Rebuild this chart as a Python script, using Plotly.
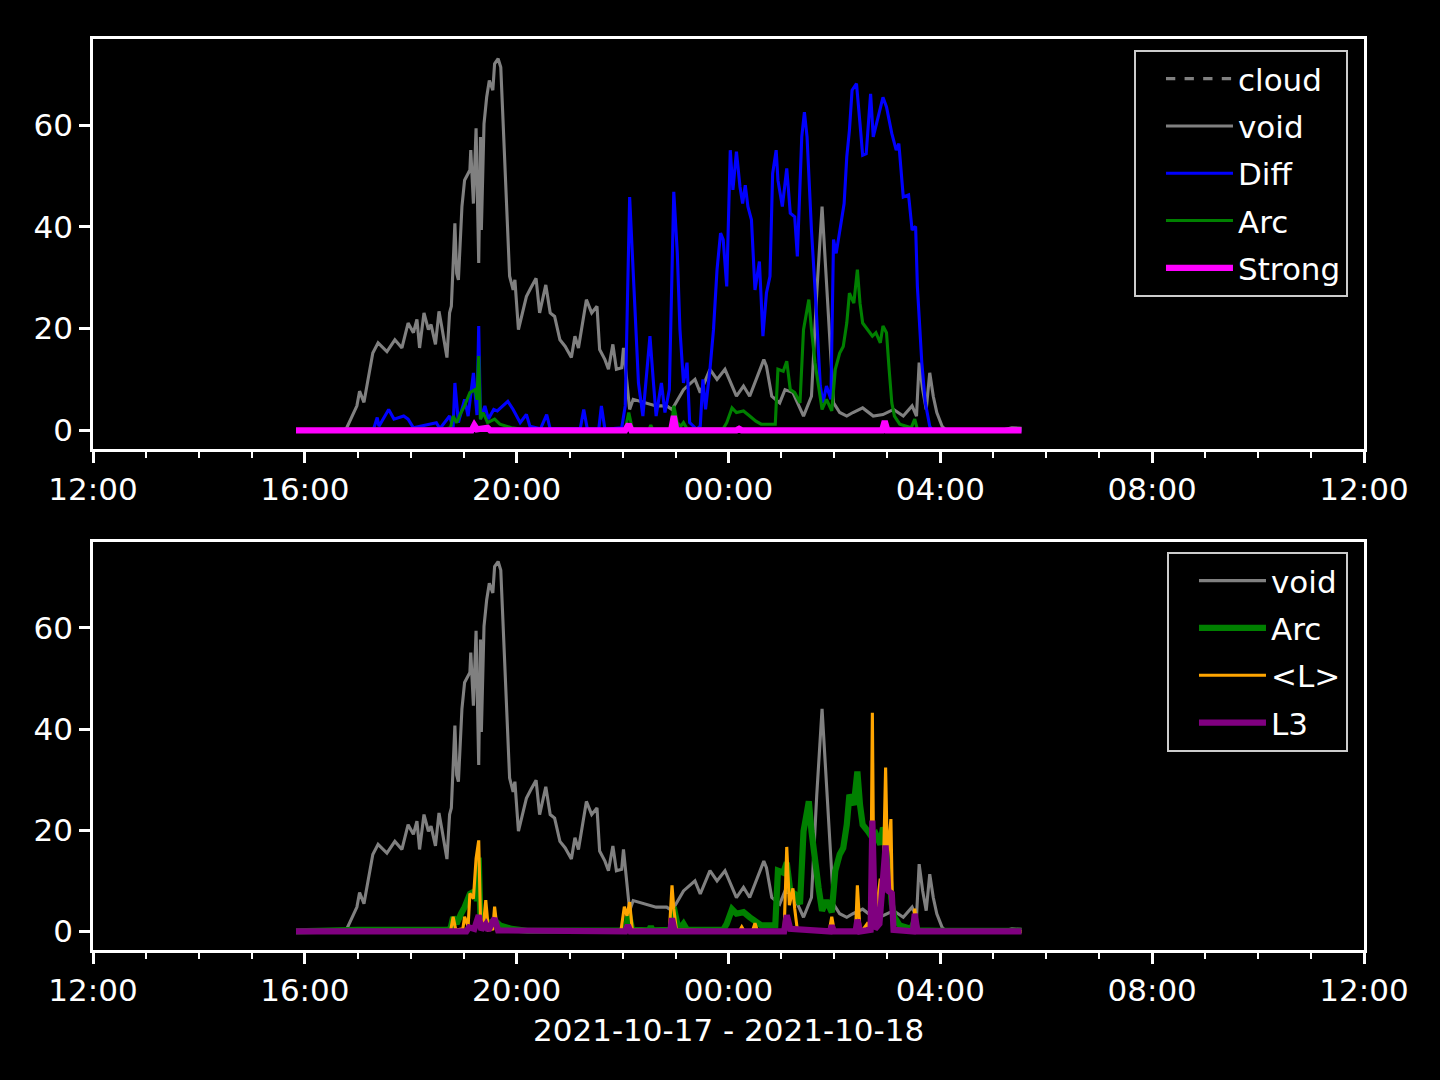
import plotly.graph_objects as go
import pandas as pd

# ---------------- data (clock times; times before 12:00 belong to 2021-10-18) ----------------
void_t = ["15:50", "16:42", "16:47", "16:59", "17:02", "17:07", "17:17", "17:23", "17:33", "17:42",
          "17:50", "17:57", "18:03", "18:07", "18:10", "18:15", "18:20", "18:23", "18:28", "18:32",
          "18:35", "18:41", "18:44", "18:46", "18:50", "18:52", "18:54", "18:58", "19:01", "19:07",
          "19:08", "19:11", "19:14", "19:17", "19:19", "19:20", "19:23", "19:26", "19:29", "19:33",
          "19:35", "19:39", "19:42", "19:47", "19:52", "19:56", "19:58", "20:02", "20:11", "20:16",
          "20:22", "20:26", "20:33", "20:38", "20:43", "20:49", "20:55", "21:02", "21:06", "21:10",
          "21:16", "21:19", "21:25", "21:31", "21:34", "21:40", "21:44", "21:49", "21:53", "21:59",
          "22:01", "22:05", "22:08", "22:12", "22:27", "22:38", "22:50", "22:56", "23:09", "23:22",
          "23:28", "23:39", "23:47", "23:56", "00:09", "00:17", "00:24", "00:40", "00:43", "00:49",
          "00:58", "01:04", "01:13", "01:25", "01:34", "01:40", "01:46", "01:51", "01:55", "01:59",
          "02:06", "02:14", "02:21", "02:32", "02:44", "02:55", "03:07", "03:18", "03:28", "03:33",
          "03:36", "03:40", "03:44", "03:48", "03:52", "03:56", "04:02", "04:06", "05:12", "05:21",
          "05:32"]
void_v = [0.0, 0.0, 0.3, 4.8, 7.7, 5.5, 15.2, 17.2, 15.5, 17.8,
          16.2, 21.1, 19.2, 21.8, 16.2, 23.1, 19.8, 20.8, 16.9, 23.4,
          20.5, 14.3, 23.1, 24.4, 40.7, 30.9, 29.6, 44.0, 49.2, 51.2,
          55.1, 44.6, 59.4, 32.9, 57.7, 39.4, 60.3, 65.5, 68.8, 66.9,
          72.1, 73.1, 71.4, 50.5, 30.3, 27.6, 29.6, 19.8, 26.3, 28.0,
          29.9, 23.1, 28.6, 23.1, 22.4, 17.8, 16.5, 14.3, 18.5, 16.2,
          22.4, 25.7, 23.1, 24.4, 15.9, 13.9, 12.0, 16.9, 12.0, 12.3,
          16.2, 10.0, 4.1, 6.1, 5.4, 4.8, 4.8, 4.1, 8.0, 10.0,
          7.4, 12.0, 10.0, 12.0, 6.7, 8.7, 6.7, 13.9, 12.6, 6.7,
          5.4, 8.0, 7.4, 2.8, 6.7, 27.0, 44.0, 29.6, 18.5, 5.4,
          3.5, 2.8, 3.5, 4.4, 2.8, 3.1, 4.1, 2.8, 4.8, 2.8,
          13.3, 8.0, 4.1, 11.3, 6.7, 3.5, 0.8, 0.1, 0.1, 0.5,
          0.4]

cloud_t = ["15:50", "05:32"]
cloud_v = [0.0, 0.0]

diff_t = ["15:50", "17:06", "17:18", "17:22", "17:24", "17:35", "17:41", "17:52", "17:57", "18:03",
          "18:29", "18:33", "18:44", "18:48", "18:50", "18:54", "19:01", "19:05", "19:11", "19:15",
          "19:17", "19:19", "19:24", "19:28", "19:34", "19:38", "19:50", "19:56", "20:04", "20:11",
          "20:15", "20:27", "20:34", "20:38", "21:12", "21:16", "21:20", "21:33", "21:36", "21:40",
          "21:59", "22:03", "22:08", "22:12", "22:14", "22:18", "22:23", "22:31", "22:35", "22:38",
          "22:44", "22:48", "22:53", "22:58", "23:02", "23:05", "23:09", "23:13", "23:16", "23:24",
          "23:28", "23:31", "23:34", "23:39", "23:43", "23:47", "23:51", "23:54", "23:58", "00:02",
          "00:05", "00:09", "00:13", "00:16", "00:19", "00:22", "00:26", "00:30", "00:35", "00:39",
          "00:43", "00:47", "00:50", "00:54", "00:56", "01:01", "01:06", "01:10", "01:15", "01:18",
          "01:23", "01:26", "01:29", "01:34", "01:39", "01:44", "01:47", "01:51", "01:56", "01:59",
          "02:02", "02:07", "02:11", "02:14", "02:17", "02:20", "02:25", "02:29", "02:32", "02:36",
          "02:41", "02:44", "02:49", "02:55", "02:59", "03:05", "03:10", "03:13", "03:18", "03:24",
          "03:28", "03:32", "03:34", "03:39", "03:43", "03:48", "03:51", "05:32"]
diff_v = [0.0, 0.0, 0.3, 2.5, 0.8, 4.1, 2.2, 2.8, 2.2, 0.5,
          1.5, 0.3, 2.8, 0.5, 9.3, 1.5, 6.1, 2.8, 11.3, 3.0,
          20.5, 2.2, 4.8, 2.2, 4.1, 3.8, 5.7, 4.1, 1.5, 3.1,
          0.8, 0.3, 3.1, 0.3, 0.3, 4.1, 0.3, 0.2, 4.8, 0.2,
          0.5, 4.8, 45.9, 30.3, 24.4, 9.3, 2.8, 18.5, 9.3, 2.8,
          9.3, 3.5, 8.0, 46.9, 34.8, 19.8, 9.3, 13.3, 1.5, 0.2,
          0.8, 10.0, 4.1, 12.0, 19.8, 31.6, 38.8, 37.5, 28.3, 55.1,
          47.3, 54.8, 47.9, 44.6, 48.2, 44.0, 41.4, 27.6, 33.2, 18.5,
          27.0, 30.3, 50.5, 55.1, 49.2, 44.0, 51.5, 42.7, 42.0, 34.2,
          57.7, 62.6, 57.7, 39.4, 25.0, 8.7, 5.4, 8.7, 6.1, 37.5,
          34.8, 40.1, 44.6, 53.8, 59.0, 66.9, 68.2, 60.3, 54.1, 54.4,
          66.2, 57.7, 61.0, 65.5, 63.6, 58.4, 55.1, 56.4, 45.9, 46.3,
          39.4, 40.1, 28.3, 13.3, 5.4, 0.8, 0.0, 0.0]

arc_t = ["15:50", "17:00", "18:40", "18:45", "18:48", "18:52", "18:57", "19:01", "19:07", "19:13",
         "19:15", "19:17", "19:19", "19:22", "19:27", "19:35", "19:41", "19:54", "20:12", "22:03",
         "22:07", "22:11", "22:30", "22:32", "22:34", "22:55", "22:58", "23:02", "23:06", "23:09",
         "23:13", "23:54", "23:58", "00:04", "00:09", "00:17", "00:24", "00:31", "00:37", "00:53",
         "00:56", "01:02", "01:06", "01:10", "01:15", "01:21", "01:25", "01:29", "01:31", "01:34",
         "01:38", "01:42", "01:46", "01:51", "01:57", "02:01", "02:06", "02:10", "02:14", "02:17",
         "02:22", "02:26", "02:29", "02:32", "02:38", "02:43", "02:47", "02:52", "02:55", "02:59",
         "03:02", "03:05", "03:08", "03:14", "03:27", "03:31", "03:34", "04:00", "05:32"]
arc_v = [0.0, 0.3, 0.3, 0.5, 2.8, 1.5, 3.5, 4.8, 7.4, 8.0,
         6.0, 14.6, 2.2, 3.5, 1.5, 2.2, 1.2, 0.5, 0.1, 0.2,
         3.5, 0.3, 0.2, 1.0, 0.2, 0.3, 4.8, 1.5, 0.8, 1.5,
         0.3, 0.3, 1.5, 4.4, 3.5, 3.8, 2.8, 1.8, 1.2, 1.2,
         12.0, 11.6, 13.6, 8.0, 7.4, 5.4, 19.8, 23.7, 25.7, 19.8,
         13.3, 8.7, 4.1, 6.1, 3.8, 12.0, 15.2, 16.5, 21.1, 27.0,
         25.0, 31.6, 25.0, 21.1, 19.8, 18.5, 19.2, 17.2, 20.5, 19.2,
         12.0, 5.4, 2.8, 1.2, 0.5, 2.2, 0.2, 0.1, 0.1]

strong_t = ["15:50", "19:09", "19:12", "19:15", "19:27", "19:30", "22:03", "22:07", "22:10", "22:55",
            "22:58", "23:01", "00:09", "00:12", "00:15", "02:54", "02:57", "03:00", "05:32"]
strong_v = [0.0, 0.0, 1.0, 0.2, 0.5, 0.0, 0.0, 1.2, 0.0, 0.0,
            2.8, 0.0, 0.0, 0.3, 0.0, 0.0, 1.8, 0.0, 0.0]

meanl_t = ["15:50", "18:45", "18:48", "18:51", "18:59", "19:01", "19:05", "19:07", "19:11", "19:14",
           "19:17", "19:19", "19:22", "19:25", "19:28", "19:33", "19:35", "19:38", "20:00", "21:58",
           "22:02", "22:05", "22:08", "22:11", "22:53", "22:56", "22:58", "23:01", "00:12", "00:15",
           "00:18", "00:27", "00:30", "00:33", "01:03", "01:06", "01:09", "01:13", "01:15", "01:18",
           "01:54", "01:57", "02:00", "02:24", "02:26", "02:29", "02:33", "02:37", "02:41", "02:43",
           "02:45", "02:49", "02:52", "02:55", "02:58", "03:00", "03:04", "03:06", "03:09", "03:29",
           "03:31", "03:34", "05:32"]
meanl_v = [0.0, 0.0, 2.9, 0.3, 0.5, 2.9, 1.0, 7.5, 6.5, 14.4,
           18.0, 2.6, 0.5, 6.2, 0.3, 0.5, 4.9, 0.3, 0.1, 0.0,
           4.9, 3.1, 5.8, 0.3, 0.0, 9.1, 4.5, 0.3, 0.0, 0.9,
           0.0, 0.0, 1.6, 0.0, 0.0, 16.7, 5.2, 8.5, 4.5, 0.3,
           0.0, 2.9, 0.0, 0.0, 9.1, 0.3, 0.5, 1.5, 0.5, 43.2,
           0.5, 6.0, 10.4, 8.0, 32.4, 14.0, 22.2, 2.0, 0.2, 0.0,
           4.5, 0.0, 0.0]

l3_t = ["15:50", "19:03", "19:06", "19:12", "19:17", "19:20", "19:25", "19:28", "19:35", "19:39",
        "22:03", "22:06", "22:09", "22:54", "22:56", "22:59", "01:03", "01:06", "01:10", "01:55",
        "01:57", "01:59", "02:24", "02:26", "02:29", "02:41", "02:43", "02:46", "02:51", "02:55",
        "02:58", "03:01", "03:05", "03:07", "03:29", "03:31", "03:34", "05:32"]
l3_v = [0.0, 0.0, 0.8, 0.5, 3.2, 0.3, 1.4, 0.2, 2.6, 0.2,
        0.0, 1.2, 0.0, 0.0, 2.6, 0.0, 0.0, 3.2, 0.5, 0.0,
        1.2, 0.0, 0.0, 2.3, 0.0, 0.3, 21.9, 0.5, 1.5, 13.1,
        17.0, 8.0, 7.5, 0.3, 0.0, 3.5, 0.0, 0.0]

x_tick_start = "2021-10-17 12:00"
x_tick_end = "2021-10-18 12:00"
y_ticks = [0, 20, 40, 60]
x_label = "2021-10-17 - 2021-10-18"


def to_dt(times):
    out = []
    for s in times:
        hh, mm = map(int, s.split(":"))
        day = 17 if hh >= 12 else 18
        out.append(pd.Timestamp(2021, 10, day, hh, mm))
    return out


FONT = "DejaVu Sans"
FS = 31

fig = go.Figure()

top = [
    ("cloud", cloud_t, cloud_v, "gray", 3.1, "dash"),
    ("void", void_t, void_v, "gray", 3.1, "solid"),
    ("Diff", diff_t, diff_v, "blue", 3.1, "solid"),
    ("Arc", arc_t, arc_v, "green", 3.1, "solid"),
    ("Strong", strong_t, strong_v, "magenta", 6.2, "solid"),
]
for i, (name, t, v, c, w, d) in enumerate(top):
    fig.add_trace(go.Scatter(x=to_dt(t), y=v, mode="lines", name=name,
                             line=dict(color=c, width=w, dash=d),
                             xaxis="x", yaxis="y", legend="legend",
                             legendgroup="t%d" % i))

bottom = [
    ("void", void_t, void_v, "gray", 3.1),
    ("Arc", arc_t, arc_v, "green", 6.2),
    ("<L>", meanl_t, meanl_v, "orange", 3.1),
    ("L3", l3_t, l3_v, "purple", 6.2),
]
for i, (name, t, v, c, w) in enumerate(bottom):
    fig.add_trace(go.Scatter(x=to_dt(t), y=v, mode="lines", name=name,
                             line=dict(color=c, width=w),
                             xaxis="x2", yaxis="y2", legend="legend2",
                             legendgroup="b%d" % i))

xax = dict(type="date", range=[x_tick_start, x_tick_end], tickformat="%H:%M",
           tick0=x_tick_start, dtick=4 * 3600000, ticks="outside", ticklen=11,
           tickwidth=2.5, tickcolor="white", showline=True, linecolor="white",
           linewidth=2.5, mirror=True, showgrid=False, zeroline=False,
           tickfont=dict(family=FONT, size=FS, color="white"),
           minor=dict(dtick=3600000, tick0=x_tick_start, ticks="outside",
                      ticklen=6, tickwidth=2, tickcolor="white", showgrid=False))
yax = dict(range=[-3.67, 76.97], tickvals=y_ticks, ticks="outside", ticklen=11,
           tickwidth=2.5, tickcolor="white", showline=True, linecolor="white",
           linewidth=2.5, mirror=True, showgrid=False, zeroline=False,
           tickfont=dict(family=FONT, size=FS, color="white"))

leg = dict(xanchor="right", yanchor="top", bgcolor="black", bordercolor="#cccccc",
           borderwidth=2, font=dict(family=FONT, size=FS, color="white"),
           itemwidth=67, tracegroupgap=4, indentation=25)

fig.update_layout(
    width=1440, height=1080,
    margin=dict(l=93, r=76, t=39, b=130),
    paper_bgcolor="black", plot_bgcolor="black",
    font=dict(family=FONT, size=FS, color="white"),
    xaxis=dict(domain=[0, 1], anchor="y", **xax),
    yaxis=dict(domain=[0.55, 1], anchor="x", **yax),
    xaxis2=dict(domain=[0, 1], anchor="y2", **xax),
    yaxis2=dict(domain=[0, 0.4479], anchor="x2", **yax),
    legend=dict(x=0.9874, y=0.9879, **leg),
    legend2=dict(x=0.9874, y=0.4369, **leg),
    annotations=[dict(text=x_label, xref="paper", yref="paper", x=0.5, y=-0.0878,
                      xanchor="center", yanchor="middle", showarrow=False,
                      font=dict(family=FONT, size=FS, color="white"))],
)

fig.write_html(
    "out.html",
    config={"displayModeBar": False},
    post_script="document.body.style.margin='0';document.body.style.background='black';",
)
